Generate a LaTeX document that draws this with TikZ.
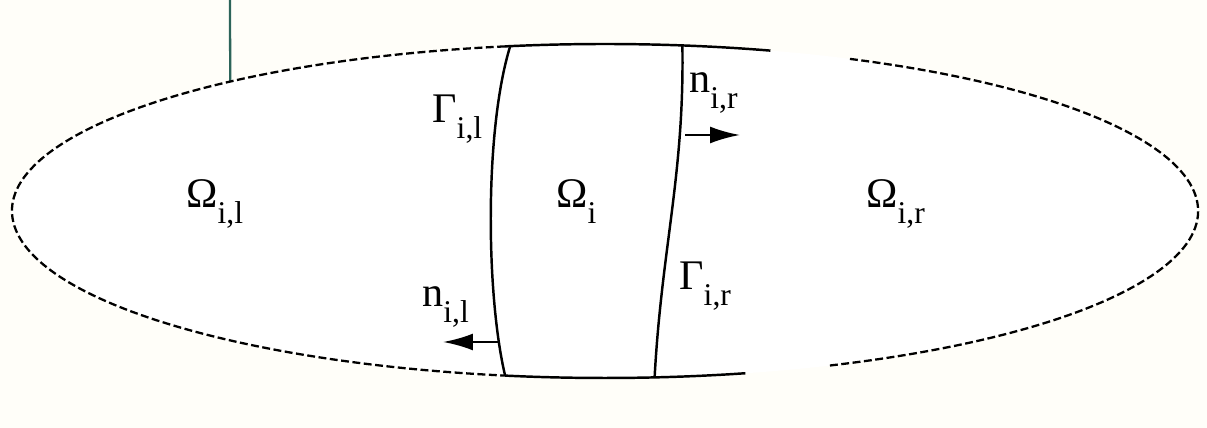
\documentclass[tikz,border=0pt]{standalone}
\usepackage{fontspec}
\setmainfont{Liberation Serif}
\usetikzlibrary{arrows.meta}
\definecolor{paper}{RGB}{255,254,249}
\definecolor{post}{RGB}{45,100,90}
\newcommand{\idx}[1]{\raisebox{-0.36em}{\fontsize{18}{20}\selectfont #1}}
\tikzset{
  bound/.style={line width=1.3pt, dash pattern=on 4.5pt off 2pt},
  wall/.style={line width=1.4pt},
  cut/.style={line width=1.4pt},
  normal/.style={-{Latex[length=6mm,width=3.4mm]}, line width=1.4pt},
  lab/.style={inner sep=0pt, anchor=base west, font=\fontsize{24}{28}\selectfont}
}
\begin{document}
\begin{tikzpicture}[x=0.02cm, y=0.02cm]
  \fill[paper] (0,0) rectangle (1207,428);
  \useasboundingbox (0,0) rectangle (1207,428);
  \coordinate (oc) at (605,217);
  \fill[white] (oc) ellipse [x radius=593, y radius=167];

  % points on the outer boundary
  \path (oc) ++(129.2:593 and 167) coordinate (foot);
  \path (oc) ++(99.2:593 and 167) coordinate (glt);
  \path (oc) ++(260.3:593 and 167) coordinate (glb);
  \path (oc) ++(82.5:593 and 167) coordinate (grt);
  \path (oc) ++(274.8:593 and 167) coordinate (grb);
  \coordinate (top) at (230,428);

  \draw[post, line width=1.3pt] (top) -- (foot);

  % outer boundary
  \draw[bound] (oc) ++(99.7:593 and 167) arc[start angle=99.7, end angle=260.3, x radius=593, y radius=167];
  \draw[bound] (oc) ++(65.6:593 and 167) arc[start angle=65.6, end angle=-67.9, x radius=593, y radius=167];
  \draw[wall] (oc) ++(99.7:593 and 167) arc[start angle=99.7, end angle=73.8, x radius=593, y radius=167];
  \draw[wall] (oc) ++(260.3:593 and 167) arc[start angle=260.3, end angle=283.7, x radius=593, y radius=167];

  % interfaces
  \draw[cut] (glt) .. controls +(-26,-84) and +(-19,80) .. (glb);
  \draw[cut] (grt) .. controls +(2,-130) and +(7,130) .. (grb);

  % normals
  \coordinate (nr) at (685,293);
  \coordinate (nrtip) at (740,293);
  \coordinate (nl) at (500,86);
  \coordinate (nltip) at (443,86);
  \draw[normal] (nr) -- (nrtip);
  \draw[normal] (nl) -- (nltip);

  % labels
  \node[lab] (omil) at (186,220) {Ω\idx{i,l}};
  \node[lab] (omi) at (556,220) {Ω\idx{i}};
  \node[lab] (omir) at (866,220) {Ω\idx{i,r}};
  \node[lab] (gail) at (432,305) {Γ\idx{i,l}};
  \node[lab] (gair) at (679,138) {Γ\idx{i,r}};
  \node[lab] (nir) at (689,335) {n\idx{i,r}};
  \node[lab] (nil) at (422,121) {n\idx{i,l}};
\end{tikzpicture}
\end{document}
